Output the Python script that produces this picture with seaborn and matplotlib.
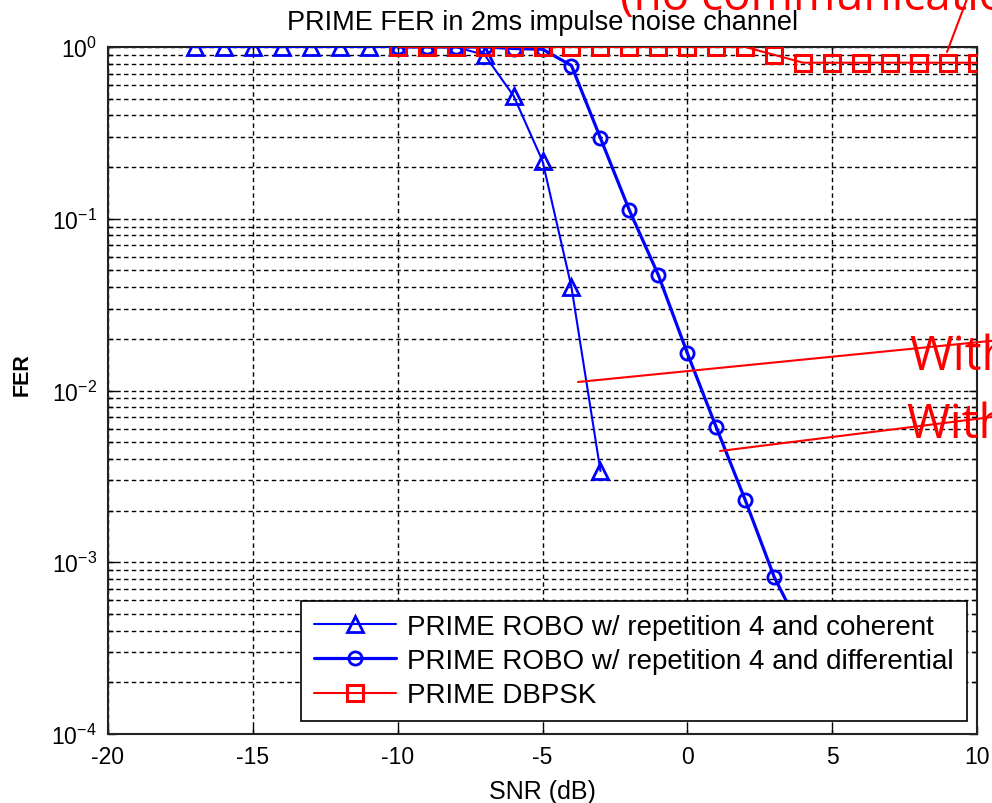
import numpy as np
import pandas as pd
import matplotlib
matplotlib.use("Agg")
import matplotlib.pyplot as plt
import matplotlib.ticker as mticker
from matplotlib.lines import Line2D
import seaborn as sns

# SNR sweep (dB) and frame error rate for each scheme
snr_coherent = [-17, -16, -15, -14, -13, -12, -11, -10, -9, -8, -7, -6, -5, -4, -3]
fer_coherent = [1.0, 1.0, 1.0, 1.0, 1.0, 1.0, 1.0, 1.0, 1.0, 1.0, 0.90, 0.52, 0.217, 0.040, 0.0034]

snr_differential = [-10, -9, -8, -7, -6, -5, -4, -3, -2, -1, 0, 1, 2, 3, 4]
fer_differential = [1.0, 1.0, 1.0, 1.0, 0.98, 0.97, 0.78, 0.295, 0.112, 0.047,
                    0.0165, 0.0061, 0.0023, 0.00082, 0.00038]

snr_dbpsk = [-10, -9, -8, -7, -6, -5, -4, -3, -2, -1, 0, 1, 2, 3, 4, 5, 6, 7, 8, 9, 10]
fer_dbpsk = [1.0, 1.0, 1.0, 1.0, 1.0, 1.0, 1.0, 1.0, 1.0, 1.0, 1.0, 1.0, 1.0,
             0.90, 0.81, 0.81, 0.81, 0.81, 0.81, 0.81, 0.81]

series_labels = ["PRIME ROBO w/ repetition 4 and coherent",
                 "PRIME ROBO w/ repetition 4 and differential",
                 "PRIME DBPSK"]
x_ticks = [-20, -15, -10, -5, 0, 5, 10]

sns.set_style("ticks")
plt.rcParams["font.family"] = ["Liberation Sans", "DejaVu Sans"]
plt.rcParams["mathtext.default"] = "regular"
plt.rcParams["axes.unicode_minus"] = False
plt.rcParams["text.color"] = "black"
plt.rcParams["axes.labelcolor"] = "black"
plt.rcParams["xtick.color"] = "black"
plt.rcParams["ytick.color"] = "black"

fig = plt.figure(figsize=(9.92, 8.04), dpi=100)
ax = fig.add_axes([108 / 992, 1 - 735 / 804, (977 - 108) / 992, (735 - 48) / 804])

df_coh = pd.DataFrame({"snr": snr_coherent, "fer": fer_coherent})
df_dif = pd.DataFrame({"snr": snr_differential, "fer": fer_differential})
df_dbp = pd.DataFrame({"snr": snr_dbpsk, "fer": fer_dbpsk})

sns.lineplot(data=df_coh, x="snr", y="fer", ax=ax, color="#0000ff", lw=1.5,
             marker="^", markersize=12, markerfacecolor="none",
             markeredgecolor="#0000ff", markeredgewidth=2.0,
             label=series_labels[0], sort=False, estimator=None, zorder=3)
sns.lineplot(data=df_dif, x="snr", y="fer", ax=ax, color="#0000ff", lw=2.3,
             marker="o", markersize=9.5, markerfacecolor="none",
             markeredgecolor="#0000ff", markeredgewidth=2.0,
             label=series_labels[1], sort=False, estimator=None, zorder=4)
sns.lineplot(data=df_dbp, x="snr", y="fer", ax=ax, color="#ff0000", lw=1.5,
             marker="s", markersize=11.5, markerfacecolor="none",
             markeredgecolor="#ff0000", markeredgewidth=2.2,
             label=series_labels[2], sort=False, estimator=None, zorder=5)

ax.set_yscale("log")
ax.set_xlim(-20, 10)
ax.set_ylim(1e-4, 1)
ax.set_xticks(x_ticks)
ax.set_xticklabels([str(t) for t in x_ticks])
ax.yaxis.set_major_locator(mticker.LogLocator(base=10, numticks=10))
ax.yaxis.set_minor_locator(mticker.LogLocator(base=10, subs=np.arange(2, 10), numticks=20))
ax.yaxis.set_minor_formatter(mticker.NullFormatter())

dash = (0, (3.2, 2.4))
ax.grid(True, which="major", axis="x", color="black", lw=1.0, linestyle=dash)
ax.grid(True, which="both", axis="y", color="black", lw=1.0, linestyle=dash)
ax.set_axisbelow(True)

ax.tick_params(which="both", direction="in", top=True, right=True, colors="black",
               labelsize=16.5, width=1.0)
ax.tick_params(which="major", length=6, pad=8)
ax.tick_params(which="minor", length=3.5)
for sp in ax.spines.values():
    sp.set_color("#222222")
    sp.set_linewidth(1.5)

ax.set_title("PRIME FER in 2ms impulse noise channel", fontsize=19.5, pad=13,
             color="black")
ax.set_xlabel("SNR (dB)", fontsize=18, labelpad=8)
ax.set_ylabel("FER", fontsize=15.5, fontweight="bold")
ax.yaxis.set_label_coords(-0.087, 0.524)

leg = ax.legend(loc="lower right", bbox_to_anchor=(0.988, 0.019), borderaxespad=0,
                fontsize=20, frameon=True, fancybox=False, framealpha=1,
                edgecolor="black", handlelength=2.95, handletextpad=0.43,
                labelspacing=0.3, borderpad=0.45)
leg.get_frame().set_linewidth(1.2)
leg.set_zorder(10)
for t in leg.get_texts():
    t.set_color("black")

# Red callouts pointing at the curves
red = "#ff0000"
def fig_pt(x, y):
    return x / 992, 1 - y / 804

for (x0, y0), (x1, y1) in [((578, 383), (1000, 341)),
                           ((720, 452), (1000, 417)),
                           ((947, 53), (967, 0))]:
    a, b = fig_pt(x0, y0)
    c, d = fig_pt(x1, y1)
    fig.add_artist(Line2D([a, c], [b, d], transform=fig.transFigure, color=red, lw=1.5))

callout_font = ["Open Sans", "DejaVu Sans"]
fig.text(*fig_pt(909, 370), "With", color=red, fontsize=34, family=callout_font,
         ha="left", va="baseline")
fig.text(*fig_pt(906, 438), "With", color=red, fontsize=34, family=callout_font,
         ha="left", va="baseline")
fig.text(*fig_pt(620, 10), "(no communication)", color=red, fontsize=33,
         family=callout_font, ha="left", va="baseline")

fig.savefig("out.png", dpi=100)
